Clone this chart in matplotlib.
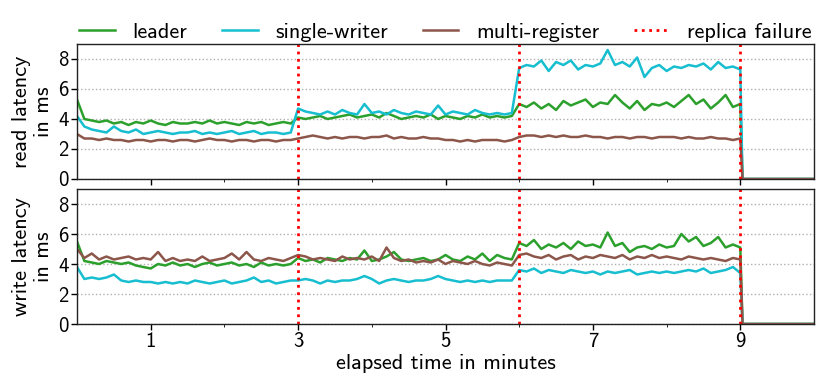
import numpy as np
import matplotlib
matplotlib.use('Agg')
import matplotlib.pyplot as plt

plt.rcParams['font.family'] = ['cmss10', 'DejaVu Sans']
plt.rcParams['axes.unicode_minus'] = False
plt.rcParams['mathtext.fontset'] = 'cm'

# time axis in minutes (one sample every 6 s up to 9 min, then the cluster is gone)
minutes = [round(0.1 * i, 1) for i in range(91)] + [9.03, 10.0]
failures = [3, 6, 9]

# read latency in ms
read_leader = [
    5.3, 4.0, 3.9, 3.8, 3.9, 3.7, 3.8, 3.6, 3.8, 3.7,
    3.9, 3.7, 3.6, 3.8, 3.7, 3.7, 3.8, 3.7, 3.9, 3.7,
    3.8, 3.7, 3.6, 3.8, 3.7, 3.8, 3.6, 3.7, 3.8, 3.7,
    4.1, 4.0, 4.1, 4.2, 4.0, 4.1, 4.2, 4.3, 4.1, 4.2,
    4.3, 4.1, 4.4, 4.2, 4.0, 4.1, 4.2, 4.1, 4.3, 4.0,
    4.2, 4.1, 4.0, 4.2, 4.1, 4.3, 4.1, 4.2, 4.1, 4.2,
    5.0, 4.8, 5.1, 4.7, 5.0, 4.6, 5.2, 4.9, 5.1, 5.3,
    4.8, 5.1, 5.0, 5.6, 5.1, 4.7, 5.2, 4.6, 5.0, 4.9,
    5.1, 4.8, 5.2, 5.6, 5.0, 5.3, 4.7, 5.1, 5.6, 4.8,
    5.0, 0.0, 0.0]
read_single = [
    4.2, 3.5, 3.3, 3.2, 3.1, 3.5, 3.2, 3.1, 3.3, 3.0,
    3.1, 3.2, 3.1, 3.0, 3.1, 3.1, 3.2, 3.0, 3.1, 3.0,
    3.1, 3.2, 3.0, 3.1, 3.2, 3.0, 3.1, 3.1, 3.0, 3.1,
    4.7, 4.5, 4.4, 4.3, 4.5, 4.3, 4.6, 4.4, 4.3, 5.0,
    4.4, 4.5, 4.3, 4.6, 4.4, 4.3, 4.5, 4.4, 4.3, 4.9,
    4.3, 4.5, 4.4, 4.3, 4.6, 4.4, 4.3, 4.4, 4.3, 4.4,
    7.4, 7.6, 7.5, 7.9, 7.2, 7.8, 7.6, 7.9, 7.3, 7.6,
    7.5, 7.7, 8.6, 7.6, 7.8, 7.5, 8.1, 6.8, 7.4, 7.6,
    7.2, 7.5, 7.4, 7.6, 7.5, 7.7, 7.3, 7.8, 7.4, 7.5,
    7.3, 0.0, 0.0]
read_multi = [
    3.0, 2.7, 2.7, 2.6, 2.7, 2.6, 2.6, 2.5, 2.6, 2.6,
    2.5, 2.6, 2.6, 2.5, 2.6, 2.6, 2.5, 2.6, 2.7, 2.6,
    2.6, 2.5, 2.6, 2.6, 2.5, 2.6, 2.6, 2.5, 2.6, 2.6,
    2.7, 2.8, 2.9, 2.8, 2.7, 2.8, 2.7, 2.8, 2.8, 2.7,
    2.8, 2.8, 2.9, 2.7, 2.8, 2.7, 2.7, 2.8, 2.7, 2.7,
    2.6, 2.6, 2.5, 2.6, 2.5, 2.6, 2.6, 2.6, 2.5, 2.6,
    2.8, 2.9, 2.9, 2.8, 2.9, 2.8, 2.9, 2.8, 2.8, 2.9,
    2.8, 2.8, 2.7, 2.8, 2.8, 2.7, 2.8, 2.8, 2.7, 2.8,
    2.8, 2.8, 2.7, 2.8, 2.7, 2.7, 2.8, 2.7, 2.7, 2.6,
    2.7, 0.0, 0.0]

# write latency in ms
write_leader = [
    5.5, 4.2, 4.1, 4.0, 4.2, 4.1, 4.0, 4.1, 3.9, 3.8,
    3.7, 4.0, 3.9, 4.1, 3.9, 4.0, 3.8, 4.0, 4.1, 3.9,
    4.0, 4.1, 3.9, 4.0, 3.8, 4.1, 3.9, 4.0, 3.9, 4.0,
    4.4, 4.2, 4.3, 4.1, 4.4, 4.3, 4.2, 4.4, 4.3, 4.9,
    4.2, 4.3, 4.5, 4.8, 4.3, 4.2, 4.3, 4.4, 4.2, 4.3,
    4.6, 4.3, 4.2, 4.5, 4.3, 4.7, 4.2, 4.6, 4.4, 4.3,
    5.4, 5.2, 5.6, 5.0, 5.3, 5.1, 5.4, 5.0, 5.5, 5.2,
    5.3, 5.1, 6.1, 5.2, 5.4, 4.8, 5.1, 5.2, 5.0, 5.3,
    5.1, 5.2, 6.0, 5.5, 5.8, 5.2, 5.4, 5.8, 5.1, 5.3,
    5.1, 0.0, 0.0]
write_single = [
    3.8, 3.0, 3.1, 3.0, 3.1, 3.3, 2.9, 2.8, 2.9, 2.8,
    2.8, 2.7, 2.8, 2.7, 2.8, 2.7, 2.9, 2.8, 2.7, 2.8,
    2.9, 2.7, 2.8, 2.9, 3.1, 2.8, 2.9, 2.7, 2.8, 2.9,
    2.9, 3.0, 2.9, 2.7, 2.9, 2.8, 2.9, 2.9, 3.0, 3.2,
    3.0, 2.7, 2.9, 3.0, 2.9, 2.8, 2.9, 2.9, 3.0, 3.2,
    3.0, 2.9, 2.8, 2.9, 2.8, 2.9, 2.8, 2.9, 2.9, 2.9,
    3.6, 3.5, 3.7, 3.4, 3.6, 3.5, 3.4, 3.6, 3.5, 3.4,
    3.5, 3.3, 3.5, 3.4, 3.5, 3.6, 3.3, 3.4, 3.5, 3.4,
    3.5, 3.4, 3.5, 3.6, 3.5, 3.7, 3.4, 3.5, 3.6, 3.8,
    3.4, 0.0, 0.0]
write_multi = [
    5.0, 4.4, 4.7, 4.3, 4.5, 4.3, 4.4, 4.5, 4.3, 4.4,
    4.3, 4.8, 4.2, 4.4, 4.2, 4.3, 4.2, 4.5, 4.2, 4.3,
    4.4, 4.7, 4.3, 4.8, 4.3, 4.2, 4.4, 4.3, 4.2, 4.4,
    4.6, 4.5, 4.3, 4.4, 4.3, 4.2, 4.5, 4.3, 4.4, 4.3,
    4.5, 4.2, 5.1, 4.4, 4.2, 4.3, 4.1, 4.2, 4.1, 4.3,
    4.0, 4.2, 4.1, 4.0, 4.2, 4.0, 3.9, 4.1, 4.0, 3.9,
    4.6, 4.7, 4.5, 4.4, 4.6, 4.3, 4.5, 4.6, 4.3, 4.5,
    4.4, 4.6, 4.5, 4.4, 4.6, 4.3, 4.5, 4.4, 4.6, 4.4,
    4.5, 4.4, 4.3, 4.5, 4.4, 4.3, 4.4, 4.3, 4.2, 4.4,
    4.3, 0.0, 0.0]

colors = {'leader': '#2ca02c', 'single-writer': '#17becf', 'multi-register': '#8c564b'}

fig = plt.figure(figsize=(8.3, 3.86), dpi=100)
ax_read = fig.add_axes([77 / 830, 1 - 179 / 386, 737 / 830, 135 / 386])
ax_write = fig.add_axes([77 / 830, 1 - 324 / 386, 737 / 830, 135 / 386])

panels = [(ax_read, read_leader, read_single, read_multi, 'read latency\nin ms'),
          (ax_write, write_leader, write_single, write_multi, 'write latency\nin ms')]

for ax, leader, single, multi, ylabel in panels:
    ax.plot(minutes, leader, color=colors['leader'], lw=1.8, label='leader')
    ax.plot(minutes, single, color=colors['single-writer'], lw=1.8, label='single-writer')
    ax.plot(minutes, multi, color=colors['multi-register'], lw=1.8, label='multi-register')
    for i, f in enumerate(failures):
        ax.axvline(f, color='red', ls=':', lw=2, label='replica failure' if i == 0 else None)
    ax.set_xlim(0, 10)
    ax.set_ylim(0, 9)
    ax.set_yticks([0, 2, 4, 6, 8])
    ax.set_xticks([1, 3, 5, 7, 9])
    ax.set_xticks([2, 4, 6, 8], minor=True)
    ax.yaxis.grid(True, ls=':', color='#b0b0b0', lw=1)
    ax.set_axisbelow(True)
    ax.tick_params(labelsize=15, length=4, width=1, pad=2)
    ax.tick_params(which='minor', length=2.5)
    ax.set_ylabel(ylabel, fontsize=16, linespacing=1.15)
    ax.yaxis.set_label_coords(-0.033, 0.5)
    for s in ax.spines.values():
        s.set_linewidth(1.0)
        s.set_color('#222222')

ax_read.tick_params(labelbottom=False)
ax_write.set_xlabel('elapsed time in minutes', fontsize=16, labelpad=2)

handles, labels = ax_read.get_legend_handles_labels()
fig.legend(handles, labels, loc='lower left', ncol=4, mode='expand', frameon=False,
           bbox_to_anchor=(77 / 830, 1 - 44 / 386, 737 / 830, 0.1), fontsize=16,
           handlelength=1.6, handletextpad=0.8, borderaxespad=0.0, borderpad=0.1)

fig.savefig('out.png', dpi=100)
